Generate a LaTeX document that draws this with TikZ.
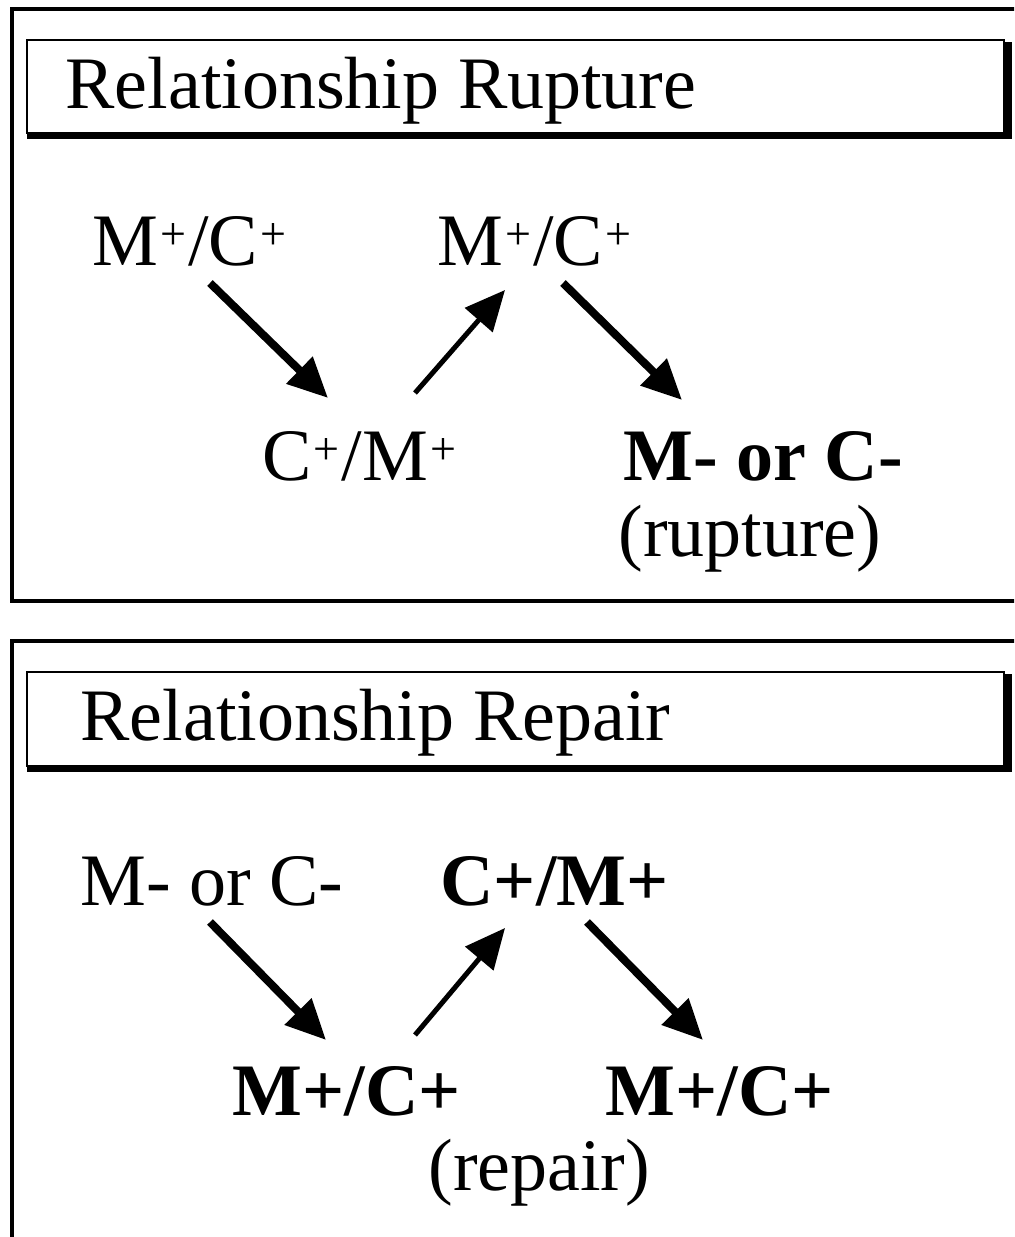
\documentclass[tikz,border=0pt]{standalone}
\usepackage{fontspec}
\setmainfont{Liberation Serif}
\usetikzlibrary{arrows.meta,calc}
\newcommand{\pl}{\hspace{1pt}\raisebox{8pt}{\fontsize{23}{23}\selectfont +}\hspace{1pt}}
\begin{document}
\begin{tikzpicture}[x=0.5pt,y=-0.5pt,
  panel/.style={line width=2pt},
  headbox/.style={line width=1.4pt, fill=white},
  label/.style={anchor=base west, inner sep=0pt, font=\fontsize{37}{44}\selectfont},
  boldlabel/.style={label, font=\fontsize{37}{44}\selectfont\bfseries},
  heavyarrow/.style={line width=4pt, -{Triangle[length=20pt,width=18pt]}},
  lightarrow/.style={line width=2.5pt, -{Triangle[length=20pt,width=18pt]}}]
\useasboundingbox (0,0) rectangle (1014,1237);
\clip (0,0) rectangle (1014,1237);

% outer panels
\draw[panel] (12,9) rectangle (1040,601);
\draw[panel] (12,641) rectangle (1040,1280);

% header boxes with heavy bottom/right edges
\foreach \t/\b in {40/133, 672/766}{
  \fill (1004,\t+2) rectangle (1012,\b+6);
  \fill (27,\b) rectangle (1012,\b+6);
  \draw[headbox] (27,\t) rectangle (1004,\b);
}

% ---- rupture panel
\node[label] (h1) at (65,108) {Relationship Rupture};
\node[label] (a1) at (92,265) {M\pl/C\pl};
\node[label] (a2) at (437,265) {M\pl/C\pl};
\node[label] (a3) at (262,480) {C\pl/M\pl};
\node[boldlabel] (a4) at (623,480) {M- or C-};
\node[label] (a5) at (618,556) {(rupture)};

\draw[heavyarrow] ($(a1.base west)+(118,18)$) -- ($(a3.base west)+(66,-82)$);
\draw[lightarrow] ($(a3.base west)+(153,-87)$) -- ($(a2.base west)+(68,25)$);
\draw[heavyarrow] ($(a2.base west)+(126,18)$) -- ($(a4.base west)+(59,-80)$);

% ---- repair panel
\node[label] (h2) at (80,740) {Relationship Repair};
\node[label] (b1) at (80,905) {M- or C-};
\node[boldlabel] (b2) at (440,905) {C+/M+};
\node[boldlabel] (b3) at (232,1115) {M+/C+};
\node[boldlabel] (b4) at (605,1115) {M+/C+};
\node[label] (b5) at (428,1190) {(repair)};

\draw[heavyarrow] ($(b1.base west)+(130,17)$) -- ($(b3.base west)+(94,-75)$);
\draw[lightarrow] ($(b3.base west)+(183,-80)$) -- ($(b2.base west)+(65,23)$);
\draw[heavyarrow] ($(b2.base west)+(147,17)$) -- ($(b4.base west)+(98,-75)$);
\end{tikzpicture}
\end{document}
